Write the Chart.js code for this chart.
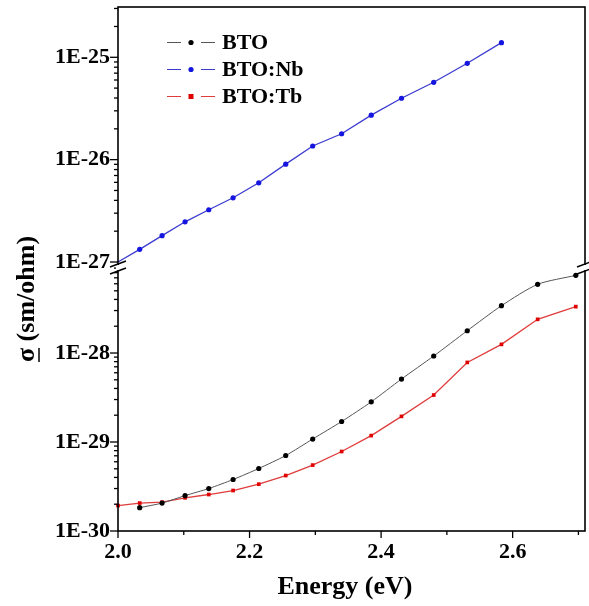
<!DOCTYPE html>
<html><head><meta charset="utf-8">
<script src="https://cdn.jsdelivr.net/npm/chart.js@4/dist/chart.umd.min.js"></script>
<style>html,body{margin:0;padding:0;background:#fff}canvas{display:block}</style>
</head><body>
<canvas id="c" width="589" height="606"></canvas>
<script>
// ---- data ----
const energy = [2.000, 2.033, 2.067, 2.102, 2.138, 2.175, 2.214, 2.255, 2.296, 2.340, 2.385, 2.431, 2.480, 2.531, 2.583, 2.638, 2.696];
const seriesNames = ['BTO', 'BTO:Nb', 'BTO:Tb'];
const btoValues = [null, 1.83e-30, 2.06e-30, 2.50e-30, 3.00e-30, 3.79e-30, 5.04e-30, 7.05e-30, 1.08e-29, 1.70e-29, 2.83e-29, 5.10e-29, 9.25e-29, 1.78e-28, 3.40e-28, 5.91e-28, 7.46e-28];
const nbValues  = [1.00e-27, 1.33e-27, 1.81e-27, 2.47e-27, 3.24e-27, 4.24e-27, 5.94e-27, 9.04e-27, 1.36e-26, 1.79e-26, 2.72e-26, 3.98e-26, 5.70e-26, 8.74e-26, 1.39e-25, null, null];
const tbValues  = [1.93e-30, 2.06e-30, 2.11e-30, 2.36e-30, 2.57e-30, 2.85e-30, 3.36e-30, 4.20e-30, 5.50e-30, 7.82e-30, 1.18e-29, 1.94e-29, 3.37e-29, 7.84e-29, 1.25e-28, 2.39e-28, 3.32e-28];
const xTickValues = [2.0, 2.1, 2.2, 2.3, 2.4, 2.5, 2.6, 2.7];
const xLabelValues = [2.0, 2.2, 2.4, 2.6];
const xTitle = 'Energy (eV)';
const yTitleSymbol = 'σ';
const yTitleRest = ' (sm/ohm)';

const FONT = "'Liberation Serif', 'Times New Roman', serif";
const pts = vals => energy.map((e, i) => ({x: e, y: vals[i]}));

function isDecade(v) {
  const l = Math.log10(v);
  return Math.abs(l - Math.round(l)) < 1e-6;
}
function logTicks(scale) {
  const min = scale.min, max = scale.max;
  const out = [];
  for (let e = Math.floor(Math.log10(min)); e <= Math.ceil(Math.log10(max)); e++) {
    for (let k = 1; k <= 9; k++) {
      const v = Number(k + 'e' + e);
      if (v >= min * (1 - 1e-9) && v <= max * (1 + 1e-9)) out.push({value: v});
    }
  }
  scale.ticks = out;
}
function noPad(s) { s.paddingTop = 0; s.paddingBottom = 0; s.paddingLeft = 0; s.paddingRight = 0; }
const yTickOpts = {
  autoSkip: false,
  padding: 8,
  color: '#000',
  font: {family: FONT, size: 22, weight: 'bold'},
  callback: v => isDecade(v) ? '1E' + Math.round(Math.log10(v)) : ''
};

const decorPlugin = {
  id: 'decor',
  afterDraw(chart) {
    const ctx = chart.ctx, a = chart.chartArea;
    const yB = chart.scales.yBot, yT = chart.scales.yTop, xs = chart.scales.x;
    ctx.save();
    ctx.strokeStyle = '#000';
    ctx.lineWidth = 1.3;
    // y tick marks (outward)
    [yB, yT].forEach(s => {
      s.ticks.forEach(t => {
        const y = s.getPixelForValue(t.value);
        ctx.beginPath();
        ctx.moveTo(a.left, y);
        ctx.lineTo(a.left - (isDecade(t.value) ? 8 : 4), y);
        ctx.stroke();
      });
    });
    // x tick marks (outward)
    xs.ticks.forEach(t => {
      const x = xs.getPixelForValue(t.value);
      const major = xLabelValues.some(v => Math.abs(v - t.value) < 1e-6);
      ctx.beginPath();
      ctx.moveTo(x, a.bottom);
      ctx.lineTo(x, a.bottom + (major ? 7 : 4));
      ctx.stroke();
    });
    // frame
    ctx.lineWidth = 1.6;
    ctx.strokeRect(a.left, a.top, a.right - a.left, a.bottom - a.top);
    // axis breaks
    const B = yT.bottom;
    ctx.fillStyle = '#fff';
    ctx.fillRect(a.left - 2, B - 1, 4, 5);
    ctx.fillRect(a.right - 2, B - 1, 4, 5);
    ctx.lineWidth = 1.5;
    [a.left, a.right].forEach(x0 => {
      [B - 2, B + 5].forEach(yc => {
        ctx.beginPath();
        ctx.moveTo(x0 - 8, yc + 3);
        ctx.lineTo(x0 + 8, yc - 3);
        ctx.stroke();
      });
    });
    // legend
    ctx.textBaseline = 'middle';
    ctx.textAlign = 'left';
    ctx.font = 'bold 22px ' + FONT;
    chart.data.datasets.forEach((ds, i) => {
      const y = 42.5 + i * 27;
      ctx.strokeStyle = ds.borderColor;
      ctx.lineWidth = 1.2;
      ctx.beginPath();
      ctx.moveTo(167, y); ctx.lineTo(181, y);
      ctx.moveTo(201, y); ctx.lineTo(215, y);
      ctx.stroke();
      ctx.fillStyle = ds.pointBackgroundColor;
      if (ds.pointStyle === 'rect') ctx.fillRect(188.5, y - 2.5, 5, 5);
      else { ctx.beginPath(); ctx.arc(191, y, 2.6, 0, Math.PI * 2); ctx.fill(); }
      ctx.fillStyle = '#000';
      ctx.fillText(ds.label, 222, y + 1);
    });
    // x title
    ctx.fillStyle = '#000';
    ctx.strokeStyle = '#000';
    ctx.textAlign = 'center';
    ctx.font = 'bold 26px ' + FONT;
    ctx.fillText(xTitle, 345, 587);
    // y title (rotated) with underlined sigma
    ctx.save();
    ctx.translate(27, 299);
    ctx.rotate(-Math.PI / 2);
    const full = yTitleSymbol + yTitleRest;
    const wFull = ctx.measureText(full).width;
    const wSym = ctx.measureText(yTitleSymbol).width;
    ctx.textAlign = 'left';
    ctx.fillText(full, -wFull / 2, 0);
    ctx.lineWidth = 1.5;
    ctx.beginPath();
    ctx.moveTo(-wFull / 2, 12);
    ctx.lineTo(-wFull / 2 + wSym, 12);
    ctx.stroke();
    ctx.restore();
    ctx.restore();
  }
};

new Chart(document.getElementById('c'), {
  type: 'line',
  data: {
    datasets: [
      {label: seriesNames[0], data: pts(btoValues), yAxisID: 'yBot',
       borderColor: '#555555', borderWidth: 1, pointBackgroundColor: '#000', pointBorderColor: '#000',
       pointRadius: 2.6, pointBorderWidth: 0, pointStyle: 'circle', tension: 0.25, clip: 6},
      {label: seriesNames[1], data: pts(nbValues), yAxisID: 'yTop',
       borderColor: '#3b3bd0', borderWidth: 1.3, pointBackgroundColor: '#1515e0', pointBorderColor: '#1515e0',
       pointRadius: energy.map((e, i) => i === 0 ? 0 : 2.6), pointBorderWidth: 0, pointStyle: 'circle', tension: 0, clip: 6},
      {label: seriesNames[2], data: pts(tbValues), yAxisID: 'yBot',
       borderColor: '#e03c3c', borderWidth: 1.3, pointBackgroundColor: '#e00000', pointBorderColor: '#e00000',
       pointRadius: 2.6, pointBorderWidth: 0, pointStyle: 'rect', tension: 0, clip: 6}
    ]
  },
  options: {
    responsive: false,
    animation: false,
    devicePixelRatio: 1,
    layout: {padding: {top: 7, right: 2, left: 0, bottom: 0}},
    plugins: {legend: {display: false}, tooltip: {enabled: false}},
    scales: {
      x: {
        type: 'linear', position: 'bottom', min: 2.0, max: 2.71,
        grid: {display: false, drawTicks: false}, border: {display: false},
        afterBuildTicks: s => { s.ticks = xTickValues.map(v => ({value: v})); },
        afterFit: s => { s.height = 75; noPad(s); },
        ticks: {autoSkip: false, maxRotation: 0, padding: 8, color: '#000',
          font: {family: FONT, size: 22, weight: 'bold'},
          callback: v => xLabelValues.some(x => Math.abs(x - v) < 1e-6) ? v.toFixed(1) : ''}
      },
      yBot: {
        type: 'logarithmic', position: 'left', stack: 'ys', stackWeight: 265,
        min: 1e-30, max: 9.5e-28,
        grid: {display: false, drawTicks: false}, border: {display: false},
        afterBuildTicks: logTicks,
        afterFit: s => { s.width = 118; noPad(s); },
        ticks: yTickOpts
      },
      yTop: {
        type: 'logarithmic', position: 'left', stack: 'ys', stackWeight: 259,
        min: 9.14e-28, max: 3.1e-25,
        grid: {display: false, drawTicks: false}, border: {display: false},
        afterBuildTicks: logTicks,
        afterFit: s => { s.width = 118; noPad(s); },
        ticks: yTickOpts
      }
    }
  },
  plugins: [decorPlugin]
});
</script>
</body></html>
